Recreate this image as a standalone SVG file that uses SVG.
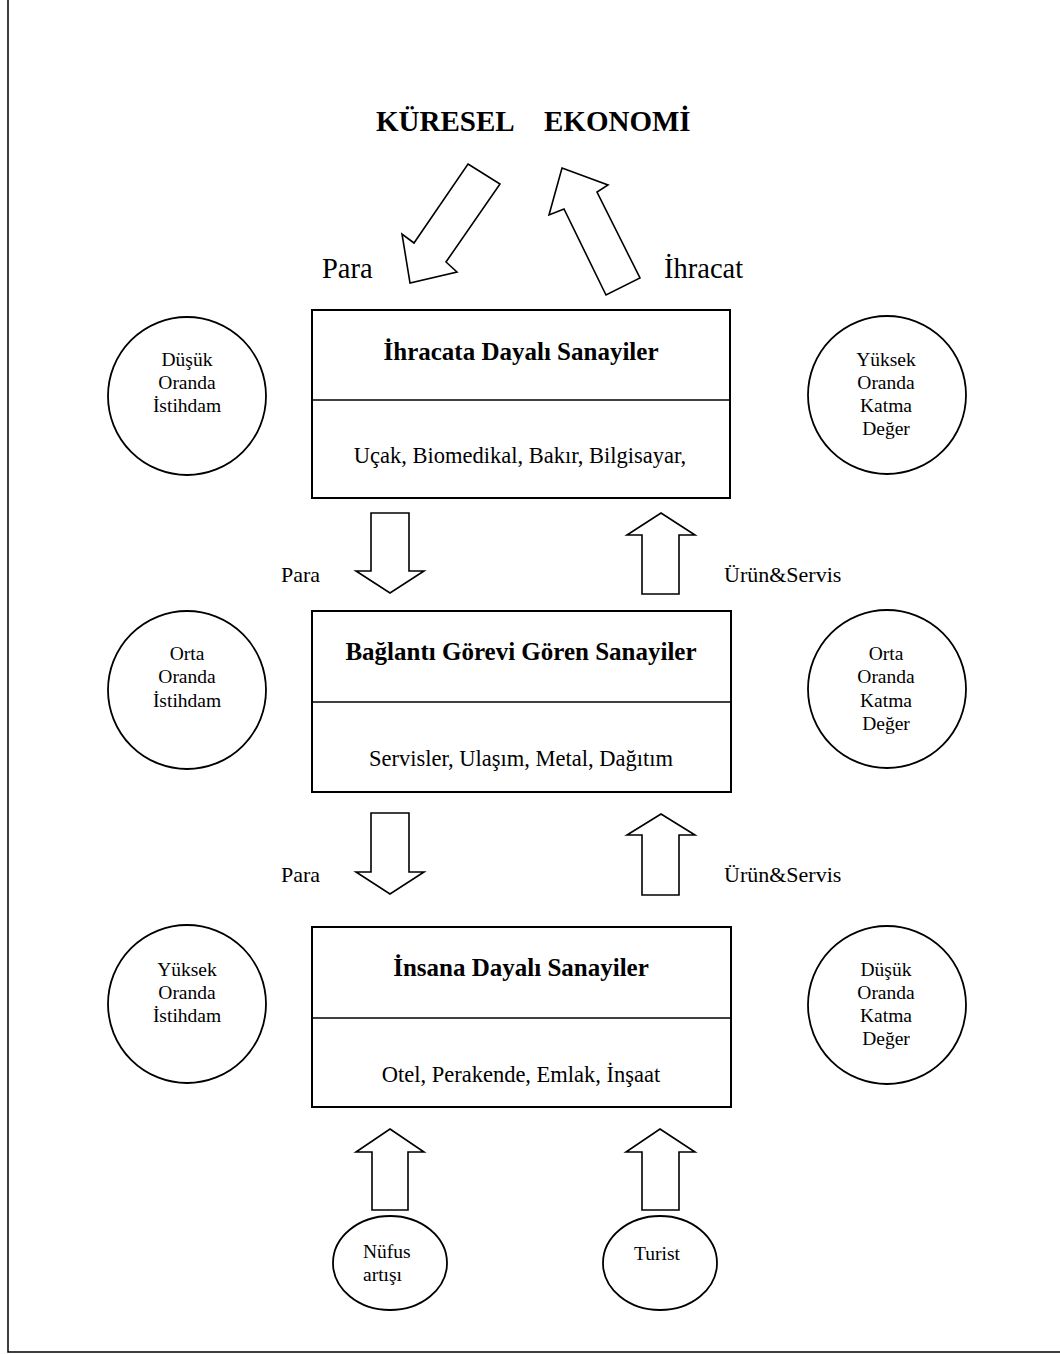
<svg xmlns="http://www.w3.org/2000/svg" width="1060" height="1354" viewBox="0 0 1060 1354">
<style>
text{font-family:"Liberation Serif","Times New Roman",serif;fill:#000}
.title{font-size:29px;font-weight:bold}
.big{font-size:28.5px}
.bt{font-size:25px;font-weight:bold;text-anchor:middle}
.st{font-size:22.5px;text-anchor:middle}
.lab{font-size:22px}
.ct{font-size:19.5px;text-anchor:middle}
.et{font-size:19.5px}
.box{fill:#fff;stroke:#000;stroke-width:2}
.div{stroke:#000;stroke-width:1.5}
.circ{fill:#fff;stroke:#000;stroke-width:1.8}
.arr{fill:#fff;stroke:#000;stroke-width:1.6;stroke-linejoin:miter}
.frame{fill:none;stroke:#000;stroke-width:1.5}
</style>
<rect width="1060" height="1354" fill="#fff"/>
<path class="frame" d="M8,0 V1352 H1060"/>

<g id="title"><text class="title" y="131"><tspan x="376">KÜRESEL</tspan><tspan x="544">EKONOMİ</tspan></text></g>

<g id="connectors">
  <polygon class="arr" points="468,164 500,184 446,262 457,272 410,283 402,234 414,243"/>
  <polygon class="arr" points="562,168 608,185 597,192 640,278 606,295 564,209 549,215"/>
  <text class="big" x="322" y="278">Para</text>
  <text class="big" x="664" y="278">İhracat</text>

  <polygon class="arr" points="371,513 409,513 409,571 424,571 390,593 356,571 371,571"/>
  <polygon class="arr" points="661,513 695,535 679,535 679,594 642,594 642,535 627,535"/>
  <text class="lab" x="281" y="582">Para</text>
  <text class="lab" x="724" y="582">Ürün&amp;Servis</text>

  <polygon class="arr" points="371,813 409,813 409,872 424,872 390,894 356,872 371,872"/>
  <polygon class="arr" points="661,814 695,835 679,835 679,895 642,895 642,835 627,835"/>
  <text class="lab" x="281" y="882">Para</text>
  <text class="lab" x="724" y="882">Ürün&amp;Servis</text>

  <polygon class="arr" points="390,1129 424,1152 408,1152 408,1210 372,1210 372,1152 356,1152"/>
  <polygon class="arr" points="660,1129 695,1152 679,1152 679,1210 642,1210 642,1152 626,1152"/>
</g>

<g id="box1">
  <rect class="box" x="312" y="310" width="418" height="188"/>
  <line class="div" x1="312" y1="400" x2="730" y2="400"/>
  <text class="bt" x="521" y="360">İhracata Dayalı Sanayiler</text>
  <text class="st" x="520" y="463">Uçak, Biomedikal, Bakır, Bilgisayar,</text>
</g>
<g id="box2">
  <rect class="box" x="312" y="611" width="419" height="181"/>
  <line class="div" x1="312" y1="702" x2="731" y2="702"/>
  <text class="bt" x="521" y="660">Bağlantı Görevi Gören Sanayiler</text>
  <text class="st" x="521" y="766">Servisler, Ulaşım, Metal, Dağıtım</text>
</g>
<g id="box3">
  <rect class="box" x="312" y="927" width="419" height="180"/>
  <line class="div" x1="312" y1="1018" x2="731" y2="1018"/>
  <text class="bt" x="521" y="976">İnsana Dayalı Sanayiler</text>
  <text class="st" x="521" y="1082">Otel, Perakende, Emlak, İnşaat</text>
</g>

<g id="c1l">
  <circle class="circ" cx="187" cy="396" r="79"/>
  <text class="ct" x="187" y="366">Düşük</text>
  <text class="ct" x="187" y="389">Oranda</text>
  <text class="ct" x="187" y="412">İstihdam</text>
</g>
<g id="c1r">
  <circle class="circ" cx="887" cy="395" r="79"/>
  <text class="ct" x="886" y="366">Yüksek</text>
  <text class="ct" x="886" y="389">Oranda</text>
  <text class="ct" x="886" y="412">Katma</text>
  <text class="ct" x="886" y="435">Değer</text>
</g>
<g id="c2l">
  <circle class="circ" cx="187" cy="690" r="79"/>
  <text class="ct" x="187" y="660">Orta</text>
  <text class="ct" x="187" y="683">Oranda</text>
  <text class="ct" x="187" y="707">İstihdam</text>
</g>
<g id="c2r">
  <circle class="circ" cx="887" cy="689" r="79"/>
  <text class="ct" x="886" y="660">Orta</text>
  <text class="ct" x="886" y="683">Oranda</text>
  <text class="ct" x="886" y="707">Katma</text>
  <text class="ct" x="886" y="730">Değer</text>
</g>
<g id="c3l">
  <circle class="circ" cx="187" cy="1004" r="79"/>
  <text class="ct" x="187" y="976">Yüksek</text>
  <text class="ct" x="187" y="999">Oranda</text>
  <text class="ct" x="187" y="1022">İstihdam</text>
</g>
<g id="c3r">
  <circle class="circ" cx="887" cy="1005" r="79"/>
  <text class="ct" x="886" y="976">Düşük</text>
  <text class="ct" x="886" y="999">Oranda</text>
  <text class="ct" x="886" y="1022">Katma</text>
  <text class="ct" x="886" y="1045">Değer</text>
</g>

<g id="e1">
  <ellipse class="circ" cx="390" cy="1263" rx="57" ry="47"/>
  <text class="et" x="363" y="1258">Nüfus</text>
  <text class="et" x="363" y="1281">artışı</text>
</g>
<g id="e2">
  <ellipse class="circ" cx="660" cy="1263" rx="57" ry="47"/>
  <text class="et" x="634" y="1260">Turist</text>
</g>
</svg>
